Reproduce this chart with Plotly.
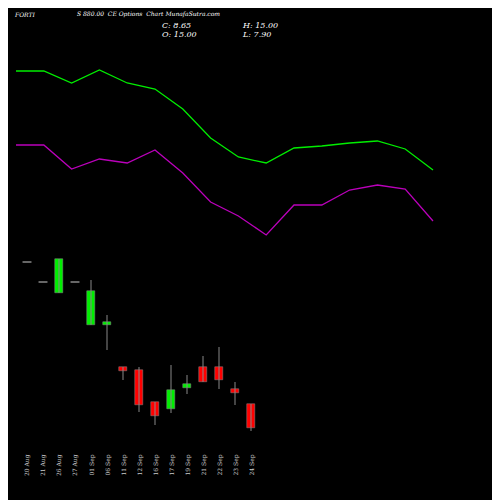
import plotly.graph_objects as go

dates = ["20 Aug", "21 Aug", "26 Aug", "27 Aug", "01 Sep", "06 Sep", "11 Sep", "12 Sep",
         "16 Sep", "17 Sep", "19 Sep", "21 Sep", "22 Sep", "23 Sep", "24 Sep"]
opens = [18.8, 16.8, 15.7, 16.8, 12.5, 12.5, 8.3, 8.0, 4.8, 4.1, 6.2, 8.3, 8.3, 6.1, 4.6]
closes = [18.8, 16.8, 19.1, 16.8, 15.9, 12.8, 7.9, 4.5, 3.4, 6.0, 6.6, 6.8, 7.0, 5.7, 2.2]
highs = [18.8, 16.8, 19.1, 16.8, 17.0, 13.5, 8.3, 8.3, 4.8, 8.5, 7.5, 9.4, 10.3, 6.8, 4.6]
lows = [18.8, 16.8, 15.7, 16.8, 12.5, 10.0, 7.0, 3.8, 2.5, 3.7, 5.6, 6.8, 6.1, 4.5, 1.9]
upper = [37.9, 37.9, 36.7, 38.0, 36.7, 36.1, 34.1, 31.2, 29.3, 28.7, 30.2, 30.4, 30.7, 30.9, 30.1, 28.0]
lower = [30.5, 30.5, 28.1, 29.1, 28.7, 30.0, 27.7, 24.8, 23.4, 21.5, 24.5, 24.5, 26.0, 26.5, 26.1, 22.9]

# page body has an 8px margin, so the whole figure is shifted; compensate in the ranges
OFF = 8

fig = go.Figure()
fig.add_trace(go.Scatter(x=list(range(len(upper))), y=upper, mode="lines", xaxis="x2",
                         line=dict(color="#00ee00", width=1.3)))
fig.add_trace(go.Scatter(x=list(range(len(lower))), y=lower, mode="lines", xaxis="x2",
                         line=dict(color="#bb00bb", width=1.3)))

for i in range(len(dates)):
    o, c = opens[i], closes[i]
    col = "#00ee00" if c > o else ("#ff0000" if c < o else "#888888")
    fig.add_trace(go.Scatter(x=[i, i], y=[lows[i], highs[i]], mode="lines",
                             line=dict(color="#888888", width=1)))
    if c == o:
        fig.add_trace(go.Scatter(x=[i - 0.28, i + 0.28], y=[o, o], mode="lines",
                                 line=dict(color=col, width=1.5)))
    else:
        fig.add_trace(go.Bar(x=[i], y=[abs(c - o)], base=[min(o, c)], width=0.56,
                             marker=dict(color=col, line=dict(color="#888888", width=0.5))))
    fig.add_annotation(x=i, y=0.06, xref="x", yref="paper", text=dates[i], showarrow=False,
                       textangle=-90, font=dict(size=6, color="#cccccc", family="DejaVu Serif"))

for txt, px, py, sz in [("FORTI", 12, 14, 6), ("S 880.00  CE Options  Chart MunafaSutra.com", 75, 14, 6),
                        ("C: 8.65", 160, 25, 8), ("O: 15.00", 160, 34, 8),
                        ("H: 15.00", 240, 25, 8), ("L: 7.90", 240, 34, 8)]:
    fig.add_annotation(x=(px - OFF) / 500, y=1 - (py - OFF) / 500, xref="paper", yref="paper",
                       text="<i>%s</i>" % txt, showarrow=False, xanchor="left", yanchor="middle",
                       font=dict(size=sz, color="#ffffff", family="DejaVu Serif"))

fig.update_layout(width=500, height=500, margin=dict(l=0, r=0, t=0, b=0),
                  paper_bgcolor="#000000", plot_bgcolor="#000000", showlegend=False, bargap=0,
                  xaxis=dict(range=[-(27 - OFF) / 16, (500 - 27 + OFF) / 16], visible=False),
                  xaxis2=dict(range=[-OFF / 27.8, (500 - OFF) / 27.8], overlaying="x", visible=False),
                  yaxis=dict(range=[-5.8, 44.2], visible=False))
fig.write_html("out.html")
